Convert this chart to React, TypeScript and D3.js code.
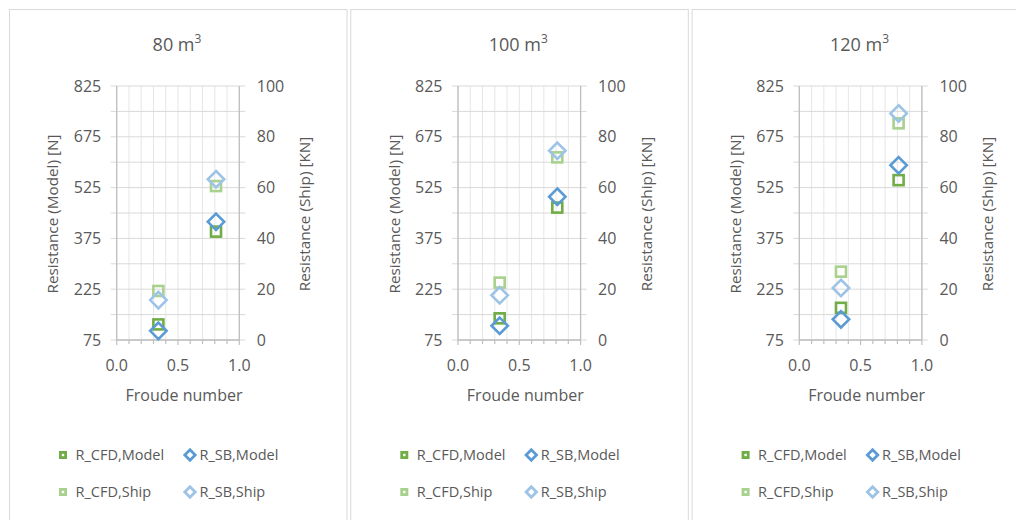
import React from "react";
import * as d3 from "d3";

const panelTitles = ["80", "100", "120"];
const froude = [0.34, 0.81];
const cfdModel = [[121, 395], [139, 466], [170, 547]];
const sbModel = [[102, 424], [117, 498], [136, 591]];
const cfdShip = [[19.3, 60.6], [22.6, 71.9], [26.9, 85.3]];
const sbShip = [[15.7, 63.3], [17.6, 74.5], [20.5, 89.2]];

const leftTicks = [75, 225, 375, 525, 675, 825];
const rightTicks = [0, 20, 40, 60, 80, 100];
const xTicks = [0, 0.5, 1.0];

const C_DG = "#70AD47";
const C_LG = "#A9D18E";
const C_DB = "#5B9BD5";
const C_LB = "#9DC3E6";
const FONT = "'Open Sans', 'Noto Sans', sans-serif";
const TXT = "#595959";

const PANEL_X = [9, 350.3, 691.6];
const PANEL_W = 337.5;

function Square({ x, y, color, s = 10, w = 2.6 }: { x: number; y: number; color: string; s?: number; w?: number }) {
  return <rect x={x - s / 2} y={y - s / 2} width={s} height={s} fill="none" stroke={color} strokeWidth={w} />;
}
function Diamond({ x, y, color, r = 8.2, w = 2.6 }: { x: number; y: number; color: string; r?: number; w?: number }) {
  return (
    <path d={`M${x},${y - r}L${x + r},${y}L${x},${y + r}L${x - r},${y}Z`} fill="none" stroke={color} strokeWidth={w} />
  );
}

function Panel({ i }: { i: number }) {
  const ox = PANEL_X[i];
  const L = 107.7, R = 230.3, T = 86, B = 340;
  const x = d3.scaleLinear().domain([0, 1]).range([L, R]);
  const yl = d3.scaleLinear().domain([75, 825]).range([B, T]);
  const yr = d3.scaleLinear().domain([0, 100]).range([B, T]);
  const hGrid = d3.range(75, 826, 75);
  const vGrid = d3.range(0, 1.0001, 0.1);
  const tickFs = 16;
  return (
    <g transform={`translate(${ox},0)`}>
      <rect x={0.5} y={9.5} width={PANEL_W} height={530} fill="#fff" stroke="#d9d9d9" strokeWidth={1} />
      <text x={168} y={51} textAnchor="middle" fontSize={18} fill={TXT} fontFamily={FONT}>
        {panelTitles[i]} m<tspan dy={-8} fontSize={12}>3</tspan>
      </text>
      {vGrid.map((v, k) => (
        <line key={"v" + k} x1={x(v)} x2={x(v)} y1={T} y2={B} stroke="#e6e6e6" strokeWidth={1} />
      ))}
      {hGrid.map((v, k) => (
        <line key={"h" + k} x1={L - 6} x2={R + 6} y1={yl(v)} y2={yl(v)} stroke="#d9d9d9" strokeWidth={1} />
      ))}
      <line x1={L} x2={L} y1={T} y2={B} stroke="#bfbfbf" strokeWidth={1.3} />
      <line x1={R} x2={R} y1={T} y2={B} stroke="#bfbfbf" strokeWidth={1.3} />
      <line x1={L} x2={R} y1={B} y2={B} stroke="#bfbfbf" strokeWidth={1.3} />
      {vGrid.map((v, k) => (
        <line key={"xt" + k} x1={x(v)} x2={x(v)} y1={B} y2={B + (k % 5 === 0 ? 5 : 4)} stroke="#bfbfbf" strokeWidth={1.2} />
      ))}
      {leftTicks.map((v) => (
        <text key={"lt" + v} x={L - 15.5} y={yl(v)} dy="0.35em" textAnchor="end" fontSize={tickFs} fill={TXT} fontFamily={FONT}>
          {v}
        </text>
      ))}
      {rightTicks.map((v) => (
        <text key={"rt" + v} x={R + 17.5} y={yr(v)} dy="0.35em" textAnchor="start" fontSize={tickFs} fill={TXT} fontFamily={FONT}>
          {v}
        </text>
      ))}
      {xTicks.map((v) => (
        <text key={"xl" + v} x={x(v)} y={365} dy="0.35em" textAnchor="middle" fontSize={tickFs} fill={TXT} fontFamily={FONT}>
          {v.toFixed(1)}
        </text>
      ))}
      <text x={175} y={395} dy="0.35em" textAnchor="middle" fontSize={16} fill={TXT} fontFamily={FONT}>
        Froude number
      </text>
      <text transform={`translate(44,214) rotate(-90)`} dy="0.35em" textAnchor="middle" fontSize={15.3} fill={TXT} fontFamily={FONT}>
        Resistance (Model) [N]
      </text>
      <text transform={`translate(296,214) rotate(-90)`} dy="0.35em" textAnchor="middle" fontSize={15.3} fill={TXT} fontFamily={FONT}>
        Resistance (Ship) [KN]
      </text>
      {froude.map((f, k) => (
        <g key={"d" + k}>
          <Square x={x(f)} y={yl(cfdModel[i][k])} color={C_DG} />
          <Diamond x={x(f)} y={yl(sbModel[i][k])} color={C_DB} />
          <Square x={x(f)} y={yr(cfdShip[i][k])} color={C_LG} />
          <Diamond x={x(f)} y={yr(sbShip[i][k])} color={C_LB} />
        </g>
      ))}
      <g>
        <Square x={54} y={455} color={C_DG} s={5.2} w={2.8} />
        <text x={66.5} y={455} dy="0.35em" fontSize={14.5} fill={TXT} fontFamily={FONT}>R_CFD,Model</text>
        <Diamond x={181} y={455} color={C_DB} r={5.2} w={2.8} />
        <text x={190.5} y={455} dy="0.35em" fontSize={14.5} fill={TXT} fontFamily={FONT}>R_SB,Model</text>
        <Square x={54} y={492} color={C_LG} s={5.2} w={2.8} />
        <text x={66.5} y={492} dy="0.35em" fontSize={14.5} fill={TXT} fontFamily={FONT}>R_CFD,Ship</text>
        <Diamond x={181} y={492} color={C_LB} r={5.2} w={2.8} />
        <text x={190.5} y={492} dy="0.35em" fontSize={14.5} fill={TXT} fontFamily={FONT}>R_SB,Ship</text>
      </g>
    </g>
  );
}

export default function App() {
  return (
    <svg width={1016} height={520} style={{ position: "absolute", left: 0, top: 0, display: "block", background: "#fff" }}>
      {[0, 1, 2].map((i) => (
        <Panel key={i} i={i} />
      ))}
    </svg>
  );
}
